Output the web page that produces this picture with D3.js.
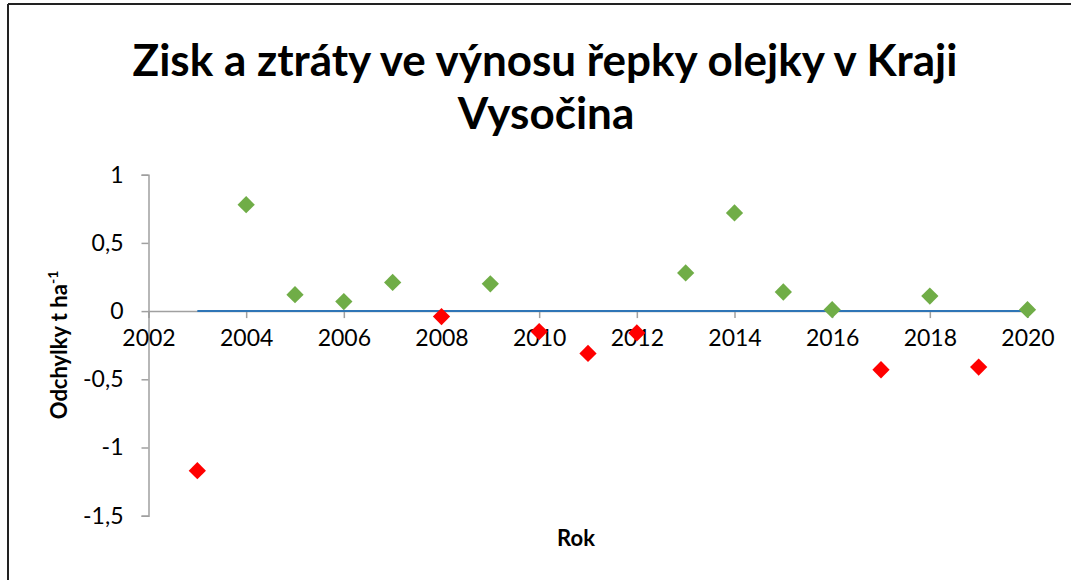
<!DOCTYPE html>
<html>
<head>
<meta charset="utf-8">
<script src="https://cdn.jsdelivr.net/npm/d3@7"></script>
<style>
  body { margin: 0; background: #fff; }
  svg { display: block; }
  text { font-family: Lato, "Open Sans", sans-serif; fill: #000; }
</style>
</head>
<body>
<svg width="1071" height="580"></svg>
<script>
// years and yield deviations (t/ha)
var years = [2003, 2004, 2005, 2006, 2007, 2008, 2009, 2010, 2011, 2012,
             2013, 2014, 2015, 2016, 2017, 2018, 2019, 2020];
var deviations = [-1.17, 0.78, 0.12, 0.07, 0.21, -0.04, 0.20, -0.15, -0.31, -0.16,
                  0.28, 0.72, 0.14, 0.01, -0.43, 0.11, -0.41, 0.01];
var baseline = [0, 0]; // zero line from first to last year
var xTicks = [2002, 2004, 2006, 2008, 2010, 2012, 2014, 2016, 2018, 2020];
var yTicks = [1, 0.5, 0, -0.5, -1, -1.5];

var svg = d3.select("svg");

// frame (only top and left edges are visible in the reference)
svg.append("line").attr("x1", 8).attr("x2", 1071).attr("y1", 4).attr("y2", 4)
    .attr("stroke", "#222").attr("stroke-width", 2);
svg.append("line").attr("x1", 8).attr("x2", 8).attr("y1", 4).attr("y2", 580)
    .attr("stroke", "#222").attr("stroke-width", 2);

var x = d3.scaleLinear().domain([2002, 2020]).range([148.5, 1027.5]);
var y = d3.scaleLinear().domain([-1.5, 1]).range([515.7, 174.7]);

// y axis
var yAxis = svg.append("g")
    .attr("transform", "translate(" + x(2002) + ",0)")
    .call(d3.axisLeft(y).tickValues(yTicks).tickSize(7).tickPadding(18)
      .tickFormat(function(d) { return String(d).replace(".", ","); }));
yAxis.select(".domain").attr("stroke", "#a0a0a0").attr("stroke-width", 1.5);
yAxis.selectAll(".tick line").attr("stroke", "#a0a0a0").attr("stroke-width", 1.5);
yAxis.selectAll(".tick text").attr("font-size", 23).attr("fill", "#000")
    .style("font-family", "Lato, sans-serif");

// x axis crossing at zero
var xAxis = svg.append("g")
    .attr("transform", "translate(0," + y(0) + ")")
    .call(d3.axisBottom(x).tickValues(xTicks).tickSize(7).tickPadding(12)
      .tickFormat(d3.format("d")));
xAxis.select(".domain").attr("stroke", "#a0a0a0").attr("stroke-width", 1.5);
xAxis.selectAll(".tick line").attr("stroke", "#a0a0a0").attr("stroke-width", 1.5);
xAxis.selectAll(".tick text").attr("font-size", 23).attr("fill", "#000")
    .style("font-family", "Lato, sans-serif");

// zero line
svg.append("line")
    .attr("x1", x(years[0])).attr("x2", x(years[years.length - 1]))
    .attr("y1", y(baseline[0])).attr("y2", y(baseline[1]))
    .attr("stroke", "#2e75b6").attr("stroke-width", 2);

// diamonds
var diamond = d3.symbol().type(d3.symbolDiamond2).size(190);
svg.selectAll(".pt")
  .data(years)
  .enter().append("path")
    .attr("class", "pt")
    .attr("d", diamond)
    .attr("transform", function(d, i) { return "translate(" + x(d) + "," + y(deviations[i]) + ")"; })
    .attr("fill", function(d, i) { return deviations[i] < 0 ? "#ff0000" : "#70ad47"; });

// title
var title = svg.append("text")
    .attr("text-anchor", "middle")
    .attr("font-size", 44).attr("font-weight", "bold");
title.append("tspan").attr("x", 545).attr("y", 76).text("Zisk a ztráty ve výnosu řepky olejky v Kraji");
title.append("tspan").attr("x", 546).attr("y", 129).text("Vysočina");

// axis titles
svg.append("text")
    .attr("x", 576).attr("y", 546)
    .attr("text-anchor", "middle")
    .attr("font-size", 22).attr("font-weight", "bold")
    .text("Rok");

var yTitle = svg.append("text")
    .attr("transform", "translate(67,345) rotate(-90)")
    .attr("text-anchor", "middle")
    .attr("font-size", 22).attr("font-weight", "bold");
yTitle.append("tspan").text("Odchylky t ha");
yTitle.append("tspan").attr("dy", -9).attr("font-size", 14).text("-1");
</script>
</body>
</html>
